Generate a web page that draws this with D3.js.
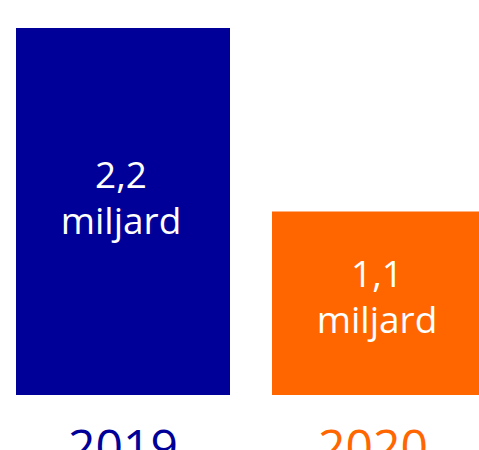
<!DOCTYPE html>
<html>
<head>
<meta charset="utf-8">
<script src="https://cdn.jsdelivr.net/npm/d3@7"></script>
<style>
  body { margin: 0; background: #fff; }
  svg { display: block; font-family: "Open Sans", sans-serif; }
</style>
</head>
<body>
<svg id="chart"></svg>
<script>
const years = ["2019", "2020"];
const values = [2.2, 1.1];
const valueLabels = ["2,2", "1,1"];
const unitLabel = "miljard";
const colors = ["#000099", "#FF6600"];

const W = 479, H = 450;
const baseY = 395;

const svg = d3.select("#chart")
    .attr("width", W)
    .attr("height", H);

// bars are wider than the view on the right, like the original
let x = d3.scaleBand()
    .domain(years)
    .range([16, 486])
    .paddingInner(42 / 256)
    .paddingOuter(0);

let y = d3.scaleLinear()
    .domain([0, 2.2])
    .range([baseY, 28]);

const data = years.map((yr, i) => ({year: yr, value: values[i], label: valueLabels[i], color: colors[i]}));

svg.selectAll("rect.bar")
    .data(data)
    .enter().append("rect")
    .attr("class", "bar")
    .attr("x", d => x(d.year))
    .attr("y", d => y(d.value))
    .attr("width", x.bandwidth())
    .attr("height", d => baseY - y(d.value))
    .attr("fill", d => d.color);

// value text inside bars
const lbl = svg.selectAll("text.val")
    .data(data)
    .enter().append("text")
    .attr("class", "val")
    .attr("text-anchor", "middle")
    .attr("fill", "#fff")
    .style("font-size", "37px");

lbl.append("tspan")
    .attr("x", d => x(d.year) + x.bandwidth() / 2 - 2)
    .attr("y", d => y(d.value) + (baseY - y(d.value)) * 0.462 - 9.5)
    .text(d => d.label);
lbl.append("tspan")
    .attr("x", d => x(d.year) + x.bandwidth() / 2 - 2)
    .attr("dy", 46)
    .text(unitLabel);

// year labels below, partly cut off by the bottom edge (as in the original)
svg.selectAll("text.year")
    .data(data)
    .enter().append("text")
    .attr("class", "year")
    .attr("x", d => x(d.year) + x.bandwidth() / 2 - (d.year === "2020" ? 6 : 0))
    .attr("y", 464)
    .attr("text-anchor", "middle")
    .attr("fill", d => d.color)
    .style("font-size", "48px")
    .text(d => d.year);
</script>
</body>
</html>
